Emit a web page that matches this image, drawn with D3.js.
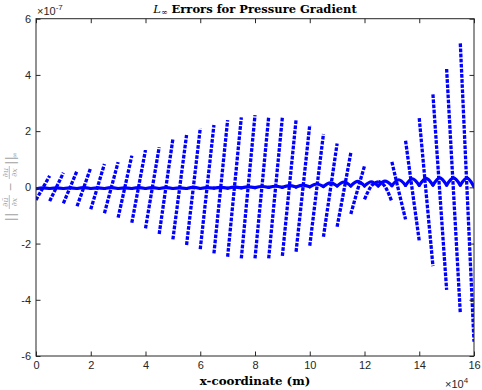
<!DOCTYPE html>
<html><head><meta charset="utf-8">
<script src="https://cdn.jsdelivr.net/npm/d3@7/dist/d3.min.js"></script>
<style>body{margin:0;background:#fff}svg{display:block}</style>
</head><body><svg id="c" width="482" height="390"></svg>
<script>
// element edges (x, in units of 1e4 m)
const xEdges = [0,0.5,1,1.5,2,2.5,3,3.5,4,4.5,5,5.5,6,6.5,7,7.5,8,8.5,9,9.5,10,10.5,11,11.5,12,12.5,13,13.5,14,14.5,15,15.5,16];
// dashed series (units 1e-7): value at left edge, middle and right edge of each element
const dashLeft  = [-0.45,-0.49,-0.57,-0.67,-0.78,-0.92,-1.08,-1.26,-1.46,-1.66,-1.85,-2.05,-2.20,-2.35,-2.47,-2.53,-2.53,-2.53,-2.44,-2.29,-2.08,-1.76,-1.40,-0.95,-0.43,0.22,0.91,1.66,2.46,3.31,4.21,5.12];
const dashMid   = [-0.02,0.01,0.01,0.01,0.02,-0.01,0.02,0.03,-0.01,0.03,0.0,0.02,0.01,0.02,0.01,0.02,-0.01,-0.02,-0.02,-0.04,-0.09,-0.10,-0.10,-0.08,0.05,0.03,-0.13,-0.13,-0.18,-0.18,-0.14,-0.19];
const dashRight = [0.41,0.52,0.59,0.70,0.83,0.90,1.13,1.33,1.43,1.72,1.86,2.10,2.22,2.39,2.49,2.57,2.51,2.49,2.40,2.22,1.90,1.56,1.23,0.76,0.20,-0.51,-1.14,-1.90,-2.80,-3.65,-4.48,-5.49];
// solid series: values at element edges and element middles
const solidEdge = [-0.05,-0.04,-0.04,-0.04,-0.04,-0.04,-0.04,-0.04,-0.04,-0.04,-0.04,-0.04,-0.04,-0.03,-0.03,-0.02,-0.01,0.0,0.0,0.01,0.02,0.03,0.05,0.05,0.05,0.05,0.06,0.07,0.07,0.08,0.08,0.08,0.02];
const solidMid  = [-0.02,-0.02,-0.02,-0.01,-0.02,-0.01,-0.02,-0.01,-0.01,-0.01,-0.02,0.0,-0.01,0.0,0.01,0.02,0.03,0.04,0.06,0.08,0.12,0.16,0.19,0.21,0.20,0.22,0.27,0.30,0.32,0.34,0.34,0.33];
const xTicks = [0,2,4,6,8,10,12,14,16];
const yTicks = [-6,-4,-2,0,2,4,6];

const svg = d3.select('#c');
const L=36, R=474, T=18.7, B=356;
const x = d3.scaleLinear().domain([0,16]).range([L,R]);
const y = d3.scaleLinear().domain([-6,6]).range([B,T]);
const axisCol = '#262626';

svg.append('defs').append('clipPath').attr('id','clip')
  .append('rect').attr('x',L).attr('y',T).attr('width',R-L).attr('height',B-T);

// series
const segs = (lft, mid, rgt) => xEdges.slice(0,-1).map((x0,i)=>{
  const x1 = xEdges[i+1];
  return [[x0,lft[i]],[(x0+x1)/2,mid[i]],[x1,rgt[i]]];
});
const line = d3.line().x(d=>x(d[0])).y(d=>y(d[1])).curve(d3.curveNatural);
const plot = svg.append('g').attr('clip-path','url(#clip)');
plot.selectAll('path.dash').data(segs(dashLeft,dashMid,dashRight)).join('path')
  .attr('class','dash').attr('d',line).attr('fill','none').attr('stroke','#0000ff')
  .attr('stroke-width',3.3).attr('stroke-dasharray','3.7,1.4');
plot.selectAll('path.solid').data(segs(solidEdge.slice(0,-1),solidMid,solidEdge.slice(1))).join('path')
  .attr('class','solid').attr('d',line).attr('fill','none').attr('stroke','#0000ff')
  .attr('stroke-width',3.2).attr('stroke-linejoin','round').attr('stroke-linecap','round');

// axes
const fmt = d=>String(d);
const gx = svg.append('g').attr('transform',`translate(0,${B})`)
  .call(d3.axisBottom(x).tickValues(xTicks).tickSizeInner(-4.5).tickSizeOuter(0).tickPadding(5.5).tickFormat(fmt));
const gy = svg.append('g').attr('transform',`translate(${L},0)`)
  .call(d3.axisLeft(y).tickValues(yTicks).tickSizeInner(-4.5).tickSizeOuter(0).tickPadding(5).tickFormat(fmt));
const gt = svg.append('g').attr('transform',`translate(0,${T})`)
  .call(d3.axisTop(x).tickValues(xTicks).tickSizeInner(-4.5).tickSizeOuter(0).tickFormat(''));
const gr = svg.append('g').attr('transform',`translate(${R},0)`)
  .call(d3.axisRight(y).tickValues(yTicks).tickSizeInner(-4.5).tickSizeOuter(0).tickFormat(''));
[gx,gy,gt,gr].forEach(g=>{
  g.select('.domain').remove();
  g.selectAll('line').attr('stroke',axisCol).attr('stroke-width',1);
  g.selectAll('text').attr('fill',axisCol).style('font-family','"Liberation Sans",Arial,sans-serif').style('font-size','11px');
});
svg.append('rect').attr('x',L).attr('y',T).attr('width',R-L).attr('height',B-T)
  .attr('fill','none').attr('stroke',axisCol).attr('stroke-width',1);

// exponent labels
const e1 = svg.append('text').attr('x',37).attr('y',15).attr('fill',axisCol)
  .style('font-family','"Liberation Sans",Arial,sans-serif').style('font-size','11px');
e1.append('tspan').text('×10');
e1.append('tspan').attr('dy',-5).style('font-size','8px').text('-7');
const e2 = svg.append('text').attr('x',445).attr('y',388).attr('fill',axisCol)
  .style('font-family','"Liberation Sans",Arial,sans-serif').style('font-size','11px');
e2.append('tspan').text('×10');
e2.append('tspan').attr('dy',-5).style('font-size','8px').text('4');

// title
const tt = svg.append('text').attr('x',(L+R)/2).attr('y',13).attr('text-anchor','middle')
  .attr('fill','#000').style('font-family','"DejaVu Serif",serif').style('font-size','11.5px').style('font-weight','bold');
tt.append('tspan').style('font-style','italic').style('font-weight','normal').text('L');
tt.append('tspan').attr('dy',2).style('font-size','8px').style('font-weight','normal').text('∞');
tt.append('tspan').attr('dy',-2).text(' Errors for Pressure Gradient');

// x label
svg.append('text').attr('x',(L+R)/2).attr('y',385).attr('text-anchor','middle')
  .attr('fill','#000').style('font-family','"DejaVu Serif",serif').style('font-size','11.8px').style('font-weight','bold')
  .text('x-coordinate (m)');

// y label
const gl = svg.append('g').attr('transform','translate(10,187) rotate(-90)')
  .attr('fill','#a0a0a0').style('font-family','"DejaVu Serif",serif');
const txt = (xx,yy,s,fs,anchor='middle',style='normal') => gl.append('text').attr('x',xx).attr('y',yy)
  .attr('text-anchor',anchor).style('font-size',fs+'px').style('font-style',style).text(s);
txt(-30,4.5,'||',13);
txt(-15,-2,'∂ũ',8,'middle','italic');
gl.append('line').attr('x1',-22).attr('x2',-8).attr('y1',-0.7).attr('y2',-0.7).attr('stroke','#a0a0a0').attr('stroke-width',0.7);
txt(-15,6.5,'∂x',8,'middle','italic');
txt(0,3.5,'−',11);
txt(14.5,-2,'∂u',8,'middle','italic');
gl.append('line').attr('x1',8).attr('x2',21).attr('y1',-0.7).attr('y2',-0.7).attr('stroke','#a0a0a0').attr('stroke-width',0.7);
txt(14.5,6.5,'∂x',8,'middle','italic');
txt(26.5,4.5,'||',13);
txt(32,7,'∞',7);
</script></body></html>
